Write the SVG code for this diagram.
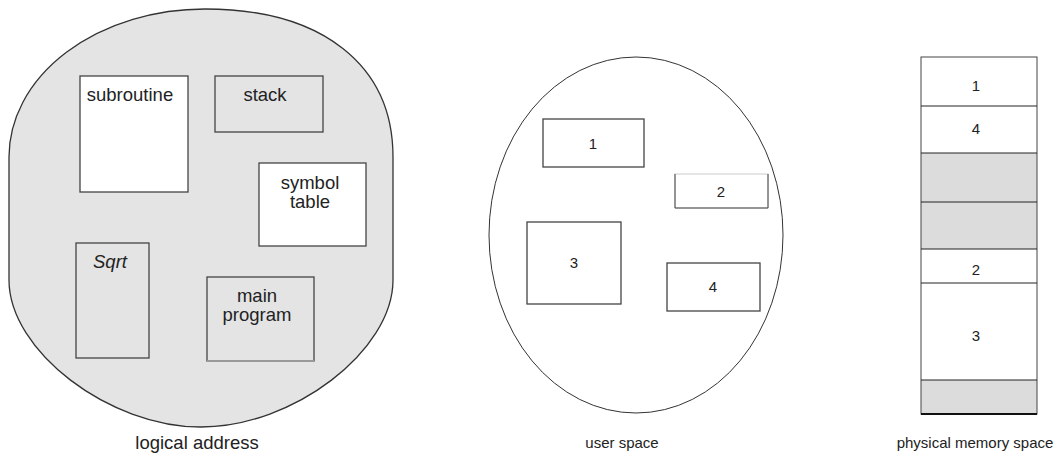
<svg xmlns="http://www.w3.org/2000/svg" width="1058" height="455" viewBox="0 0 1058 455">
<style>
.t{font-family:"Liberation Sans",Arial,sans-serif;fill:#222;text-anchor:middle}
.big{font-size:18.5px}
.sm{font-size:15px}
.lbl{font-size:15px}
.bx{stroke:#444;stroke-width:1.3}
.w{fill:#fff}
.g{fill:#e4e4e4}
.pg{fill:#dcdcdc}
.ln{stroke:#222;stroke-width:1}
</style>
<rect width="1058" height="455" fill="#fff"/>
<g id="logical">
<path d="M 9,157 A 196 148 0 0 1 205,9 C 322,9 393,65 393,157 L 393,280 C 393,351 293,427 201,427 C 109,427 9,351 9,280 Z" fill="#e4e4e4" stroke="#333" stroke-width="1.3"/>
<g id="subroutine"><rect class="bx w" x="80" y="76" width="108" height="116"/><text class="t big" x="130" y="101">subroutine</text></g>
<g id="stack"><rect class="bx g" x="215" y="76" width="108" height="56"/><text class="t big" x="265" y="101">stack</text></g>
<g id="symbol"><rect class="bx w" x="259" y="163" width="107" height="83"/><text class="t big" x="310" y="189">symbol</text><text class="t big" x="310" y="208">table</text></g>
<g id="sqrt"><rect class="bx g" x="76" y="243" width="73" height="115"/><text class="t big" x="110" y="268" font-style="italic">Sqrt</text></g>
<g id="main"><rect class="bx g" x="207" y="277" width="107" height="84"/><line x1="207" y1="361" x2="314" y2="361" stroke="#999" stroke-width="2"/><text class="t big" x="257" y="302">main</text><text class="t big" x="257" y="321">program</text></g>
<text class="t" style="font-size:18.5px" x="197" y="449">logical address</text>
</g>
<g id="user">
<ellipse cx="636" cy="235" rx="147" ry="178" fill="#fff" stroke="#333" stroke-width="1"/>
<g id="u1"><rect class="bx w" x="543" y="119" width="101" height="48" stroke-width="1"/><text class="t sm" x="593" y="149">1</text></g>
<g id="u2"><rect x="675" y="174" width="93" height="34" fill="#fff" stroke="#ccc" stroke-width="1"/><path d="M675,174 V208 H768 V174" fill="none" stroke="#444" stroke-width="1"/><text class="t sm" x="721" y="197">2</text></g>
<g id="u3"><rect class="bx w" x="527" y="222" width="94" height="82" stroke="#555" stroke-width="1"/><text class="t sm" x="574" y="268">3</text></g>
<g id="u4"><rect class="bx w" x="667" y="263" width="93" height="48" stroke="#555" stroke-width="1"/><text class="t sm" x="713" y="292">4</text></g>
<text class="t lbl" x="622" y="448">user space</text>
</g>
<g id="physical">
<rect x="921" y="57" width="116" height="49" fill="#fff"/>
<rect x="921" y="106" width="116" height="47" fill="#fff"/>
<rect class="pg" x="921" y="153" width="116" height="96"/>
<rect x="921" y="249" width="116" height="131" fill="#fff"/>
<rect class="pg" x="921" y="380" width="116" height="34"/>
<rect x="921" y="57" width="116" height="357" fill="none" stroke="#444" stroke-width="1"/>
<line class="ln" x1="921" y1="106" x2="1037" y2="106" stroke="#777"/>
<line class="ln" x1="921" y1="153" x2="1037" y2="153" stroke="#777"/>
<line class="ln" x1="921" y1="202" x2="1037" y2="202"/>
<line class="ln" x1="921" y1="249" x2="1037" y2="249"/>
<line class="ln" x1="921" y1="283" x2="1037" y2="283"/>
<line class="ln" x1="921" y1="380" x2="1037" y2="380"/>
<line x1="921" y1="414" x2="1037" y2="414" stroke="#111" stroke-width="2"/>
<text class="t sm" x="976" y="91">1</text>
<text class="t sm" x="976" y="134">4</text>
<text class="t sm" x="976" y="275">2</text>
<text class="t sm" x="976" y="341">3</text>
<text class="t lbl" x="975" y="448">physical memory space</text>
</g>
<g id="connectors"></g>
</svg>
